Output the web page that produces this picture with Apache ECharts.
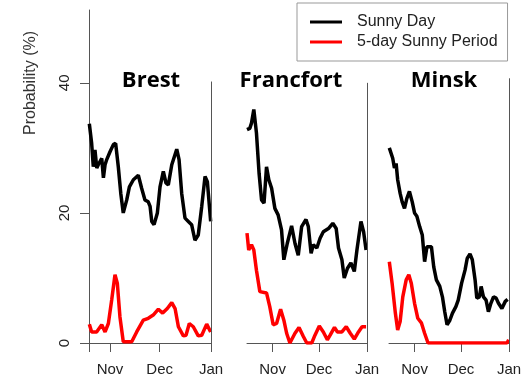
<!DOCTYPE html>
<html>
<head>
<meta charset="utf-8">
<script src="https://cdn.jsdelivr.net/npm/echarts@6/dist/echarts.min.js"></script>
<style>html,body{margin:0;padding:0;background:#fff}#c{width:526px;height:384px}</style>
</head>
<body>
<div id="c"></div>
<script>
// x values are days counted from 1 October (Nov 1 = 31, Dec 1 = 61, Jan 1 = 92)
const cities = ['Brest', 'Francfort', 'Minsk'];
const monthTicks = [31, 61, 92];
const monthLabels = ['Nov', 'Dec', 'Jan'];
const seriesNames = ['Sunny Day', '5-day Sunny Period'];

const brestSunnyDays = [18.5,19.9,20.9,21.9,23.0,23.9,25.0,26.0,27.0,28.0,29.0,31.0,33.0,34.4,36.0,37.5,39.0,41.1,42.7,45.1,48.1,50.1,52.1,54.1,55.2,56.2,57.6,59.6,61.2,63.2,64.8,66.2,68.3,71.3,72.7,74.3,76.3,78.3,80.3,82.3,84.3,86.4,88.4,89.8,91.8];
const brestSunny = [33.7,30.7,27.1,29.7,26.9,27.4,27.1,28.4,25.4,27.4,28.2,29.4,30.5,30.7,27.1,23.0,20.0,22.0,24.0,25.1,25.8,23.8,22.0,21.7,21.0,18.7,18.2,20.0,24.0,26.4,24.6,24.3,27.4,29.8,28.2,23.0,19.2,18.7,18.2,15.8,16.6,21.0,25.6,24.8,18.7];
const brestPeriodDays = [18.5,19.9,22.9,26.0,28.0,30.0,32.0,34.0,35.4,37.0,39.0,44.1,47.1,51.1,54.1,57.1,60.2,62.8,65.6,68.3,70.3,72.3,75.3,76.9,78.9,81.3,84.3,86.4,89.4,91.8];
const brestPeriod = [2.9,1.7,1.7,2.8,1.7,3.0,6.6,10.5,9.2,4.0,0.2,0.2,1.7,3.5,3.8,4.3,5.2,4.6,5.3,6.2,5.3,2.5,1.1,1.2,3.0,2.5,1.1,1.2,2.9,1.7];

const francfortSunnyDays = [14.5,16.3,17.4,18.9,20.6,22.3,23.9,25.5,27.1,28.6,30.4,32.5,34.6,36.8,38.3,40.5,43.3,45.5,47.6,49.8,52.6,54.1,55.9,57.3,59.6,61.7,63.8,67.1,69.9,72.1,73.6,75.8,77.3,79.4,81.6,83.8,85.5,88.1,89.8,91.4];
const francfortSunny = [32.8,33.0,33.8,35.9,32.3,26.1,22.0,21.5,27.1,25.1,23.8,20.7,19.7,17.4,12.8,15.3,18.0,15.3,13.5,17.9,19.0,17.9,13.8,15.1,14.6,16.1,17.1,17.6,18.4,17.6,14.6,12.8,10.0,11.5,12.3,11.0,14.3,18.7,17.1,14.3];
const francfortPeriodDays = [14.5,15.6,17.4,18.9,20.6,22.8,27.1,29.2,31.4,33.6,36.2,38.3,40.1,42.2,45.5,48.1,50.9,53.1,56.3,58.4,61.2,63.8,66.4,68.2,71.0,72.9,75.8,78.6,81.2,83.8,86.5,88.8,91.4];
const francfortPeriod = [16.9,14.3,15.1,14.3,11.2,7.9,7.7,5.6,2.8,3.0,5.2,3.5,1.5,0,1.5,2.4,1.0,0,0,1.2,2.6,1.7,0.5,1.2,2.4,1.7,1.7,2.5,1.5,0.6,1.7,2.5,2.5];

const minskSunnyDays = [14.7,15.8,16.9,18.0,19.1,20.1,21.7,23.0,24.5,26.0,27.7,29.5,31.0,32.5,34.3,36.0,37.5,39.0,41.9,43.4,45.1,47.3,49.0,50.5,52.0,53.8,55.5,57.7,59.2,61.4,63.6,65.0,66.8,68.3,70.1,71.2,72.9,74.0,75.5,77.2,78.7,80.3,82.0,83.7,85.2,87.4,89.6,91.1];
const minskSunny = [30.0,29.7,28.4,26.9,27.6,25.1,23.0,21.7,20.7,22.2,23.3,21.7,20.0,19.5,17.9,16.6,12.5,14.8,14.8,11.7,9.7,8.7,7.1,4.8,2.8,3.5,4.6,5.6,6.6,9.2,11.2,13.0,13.7,12.8,9.7,6.9,7.1,8.7,7.1,6.6,4.8,6.1,7.1,6.9,6.1,5.3,6.4,6.7];
const minskPeriodDays = [14.7,16.5,18.6,20.1,21.7,23.4,25.6,27.3,28.9,31.0,33.1,35.4,37.5,39.7,90.7,91.8];
const minskPeriod = [12.5,9.2,4.6,2.0,3.3,7.1,9.7,10.5,9.2,6.1,3.8,3.1,1.5,0,0,0.5];

const yTicks = [0, 20, 40];

// layout (not data)
const panels = [
  {left: 89, width: 122, xMin: 18.3, borderTop: 40.2, startTick: true, titleX: 151},
  {left: 247, width: 120, xMin: 14.5, borderTop: 40.0, startTick: false, titleX: 291},
  {left: 389, width: 120, xMin: 14.5, borderTop: 40.7, startTick: false, titleX: 444}
];
const sunnyDays = [brestSunnyDays, francfortSunnyDays, minskSunnyDays];
const sunnyVals = [brestSunny, francfortSunny, minskSunny];
const periodDays = [brestPeriodDays, francfortPeriodDays, minskPeriodDays];
const periodVals = [brestPeriod, francfortPeriod, minskPeriod];

const zip = (a, b) => a.map((d, i) => [d, b[i]]);
const AX = '#555';
const FONT = 'Liberation Sans, Arial, sans-serif';
const yMax = 51.2;

const grid = [], xAxis = [], yAxis = [], series = [], title = [];
panels.forEach((p, i) => {
  grid.push({left: p.left, top: 10, width: p.width, height: 333});
  xAxis.push({
    type: 'value', gridIndex: i, min: p.xMin, max: 92,
    splitLine: {show: false},
    axisLine: {show: true, lineStyle: {color: AX, width: 1}},
    axisTick: {show: true, length: 9, lineStyle: {color: AX},
      customValues: p.startTick ? [p.xMin].concat(monthTicks) : monthTicks},
    axisLabel: {show: true, customValues: monthTicks, margin: 19,
      fontFamily: FONT, fontSize: 15, color: '#222',
      formatter: v => monthLabels[monthTicks.indexOf(Math.round(v))] || ''}
  });
  yAxis.push({
    type: 'value', gridIndex: i, min: 0, max: yMax, interval: 20,
    splitLine: {show: false},
    axisLine: {show: i === 0, lineStyle: {color: AX, width: 1}},
    axisTick: {show: i === 0, length: 9, lineStyle: {color: AX}, customValues: yTicks},
    axisLabel: {show: i === 0, rotate: 90, margin: 17, customValues: yTicks,
      fontFamily: FONT, fontSize: 15, color: '#222'}
  });
  series.push({
    name: seriesNames[0], type: 'line', xAxisIndex: i, yAxisIndex: i,
    data: zip(sunnyDays[i], sunnyVals[i]), showSymbol: false, symbol: 'none',
    color: '#000', lineStyle: {color: '#000', width: 3.5}, animation: false, z: 3,
    markLine: {silent: true, symbol: 'none', label: {show: false},
      lineStyle: {color: AX, type: 'solid', width: 1},
      data: [[{coord: [92, 0]}, {coord: [92, p.borderTop]}]]}
  });
  series.push({
    name: seriesNames[1], type: 'line', xAxisIndex: i, yAxisIndex: i,
    data: zip(periodDays[i], periodVals[i]), showSymbol: false, symbol: 'none',
    color: '#ff0000', lineStyle: {color: '#ff0000', width: 3.5}, animation: false, z: 3
  });
  title.push({text: cities[i], left: p.titleX, top: 70, textAlign: 'center', padding: 0,
    textStyle: {fontFamily: 'Open Sans, sans-serif', fontWeight: 'bold', fontSize: 22, color: '#000'}});
});

const chart = echarts.init(document.getElementById('c'), null, {renderer: 'canvas'});
chart.setOption({
  animation: false,
  title: title,
  grid: grid, xAxis: xAxis, yAxis: yAxis, series: series,
  legend: {
    data: seriesNames, orient: 'vertical', left: 297, top: 3,
    padding: [10, 10, 10, 13], itemGap: 2, itemWidth: 32, itemHeight: 3,
    icon: 'rect', borderColor: '#999', borderWidth: 1, borderRadius: 0,
    textStyle: {fontFamily: FONT, fontSize: 16, color: '#222', lineHeight: 18, padding: [0, 0, 0, 10]},
    selectedMode: false
  },
  graphic: [{
    type: 'text', x: 31, y: 83, rotation: Math.PI / 2,
    style: {text: 'Probability (%)', fontFamily: FONT, fontSize: 16, fill: '#333',
      align: 'center', verticalAlign: 'middle'}
  }]
});
</script>
</body>
</html>
